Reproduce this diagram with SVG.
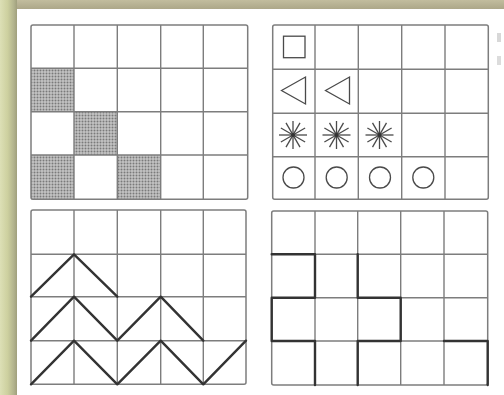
<svg xmlns="http://www.w3.org/2000/svg" xmlns:xlink="http://www.w3.org/1999/xlink" width="504" height="395" viewBox="0 0 504 395">
<style>
.grid{fill:none;stroke:#7d7d7d;stroke-width:1.4}
.frame{fill:none;stroke:#7d7d7d;stroke-width:1.5}
.thick{fill:none;stroke:#333;stroke-width:2.4;stroke-linecap:round;stroke-linejoin:round}
.sym{fill:none;stroke:#4a4a4a;stroke-width:1.3}
</style>
<defs>
<linearGradient id="lb" x1="0" y1="0" x2="1" y2="0">
<stop offset="0" stop-color="#dde0b6"/>
<stop offset="0.45" stop-color="#cdd09f"/>
<stop offset="0.8" stop-color="#b3b48e"/>
<stop offset="1" stop-color="#a09f7d"/>
</linearGradient>
<linearGradient id="tb" x1="0" y1="0" x2="0" y2="1">
<stop offset="0" stop-color="#c2bd9e"/>
<stop offset="1" stop-color="#aca789"/>
</linearGradient>
<pattern id="dots" width="3" height="3" patternUnits="userSpaceOnUse">
<rect width="3" height="3" fill="#c4c4c4"/>
<circle cx="1.5" cy="1.5" r="1" fill="#7a7a7a"/>
</pattern>
<g id="star" class="sym">
<line x1="-14" y1="0" x2="14" y2="0"/>
<line x1="0" y1="-14" x2="0" y2="14"/>
<line x1="-12.1" y1="-7" x2="12.1" y2="7"/>
<line x1="-12.1" y1="7" x2="12.1" y2="-7"/>
<line x1="-7" y1="-12.1" x2="7" y2="12.1"/>
<line x1="-7" y1="12.1" x2="7" y2="-12.1"/>
<circle r="2" fill="#333" stroke="none"/>
</g>
<polygon id="tri" points="-12,0 12,-13.5 12,13.5" class="sym"/>
<circle id="circ" r="10.5" class="sym"/>
</defs>

<g id="background">
<rect width="504" height="395" fill="#ffffff"/>
<rect x="0" y="0" width="504" height="9" fill="url(#tb)"/>
<rect x="0" y="0" width="17" height="395" fill="url(#lb)"/>
<rect x="497" y="33" width="4" height="9" fill="#d8d8d8"/>
<rect x="497" y="56" width="4" height="9" fill="#dcdcdc"/>
</g>

<g id="grid-shaded">
<rect x="31" y="68.3" width="43" height="43.4" fill="url(#dots)"/>
<rect x="74" y="111.7" width="43.3" height="43.3" fill="url(#dots)"/>
<rect x="31" y="155" width="43" height="44.3" fill="url(#dots)"/>
<rect x="117.3" y="155" width="43.4" height="44.3" fill="url(#dots)"/>
<path class="grid" d="M74 25V199.3M117.3 25V199.3M160.7 25V199.3M203.3 25V199.3M31 68.3H247.7M31 111.7H247.7M31 155H247.7"/>
<rect class="frame" x="31" y="25" width="216.7" height="174.3" rx="2"/>
</g>

<g id="grid-symbols">
<path class="grid" d="M315 25V199.3M358.3 25V199.3M401.7 25V199.3M445 25V199.3M272.7 69.3H488.3M272.7 113.3H488.3M272.7 156.7H488.3"/>
<rect class="frame" x="272.7" y="25" width="215.6" height="174.3" rx="2"/>
<rect class="sym" x="283.5" y="36.2" width="21.5" height="21.5"/>
<use xlink:href="#tri" x="293.5" y="90.5"/>
<use xlink:href="#tri" x="337.5" y="90.5"/>
<use xlink:href="#star" x="293" y="135"/>
<use xlink:href="#star" x="336.5" y="135"/>
<use xlink:href="#star" x="379.5" y="135"/>
<use xlink:href="#circ" x="293.5" y="177.5"/>
<use xlink:href="#circ" x="336.7" y="177.5"/>
<use xlink:href="#circ" x="380" y="177.5"/>
<use xlink:href="#circ" x="423.3" y="177.5"/>
</g>

<g id="grid-zigzag">
<path class="grid" d="M74 210V384.3M117.3 210V384.3M160.7 210V384.3M203.3 210V384.3M31 254.3H246M31 296.7H246M31 340.7H246"/>
<rect class="frame" x="31" y="210" width="215" height="174.3" rx="2"/>
<polyline class="thick" points="31,296.7 74,254.3 117.3,296.7"/>
<polyline class="thick" points="31,340.7 74,296.7 117.3,340.7 160.7,296.7 203.3,340.7"/>
<polyline class="thick" points="31,384.3 74,340.7 117.3,384.3 160.7,340.7 203.3,384.3 246,340.7"/>
</g>

<g id="grid-steps">
<path class="grid" d="M315 211V385M357.7 211V385M400.7 211V385M444 211V385M271.7 254.3H487.7M271.7 297.7H487.7M271.7 341H487.7"/>
<rect class="frame" x="271.7" y="211" width="216" height="174" rx="2"/>
<path class="thick" d="M271.7 254.3H315V297.7H271.7V341H315V385M357.7 254.3V297.7H400.7V341H357.7V385M444 341H487.7V385"/>
</g>
</svg>
